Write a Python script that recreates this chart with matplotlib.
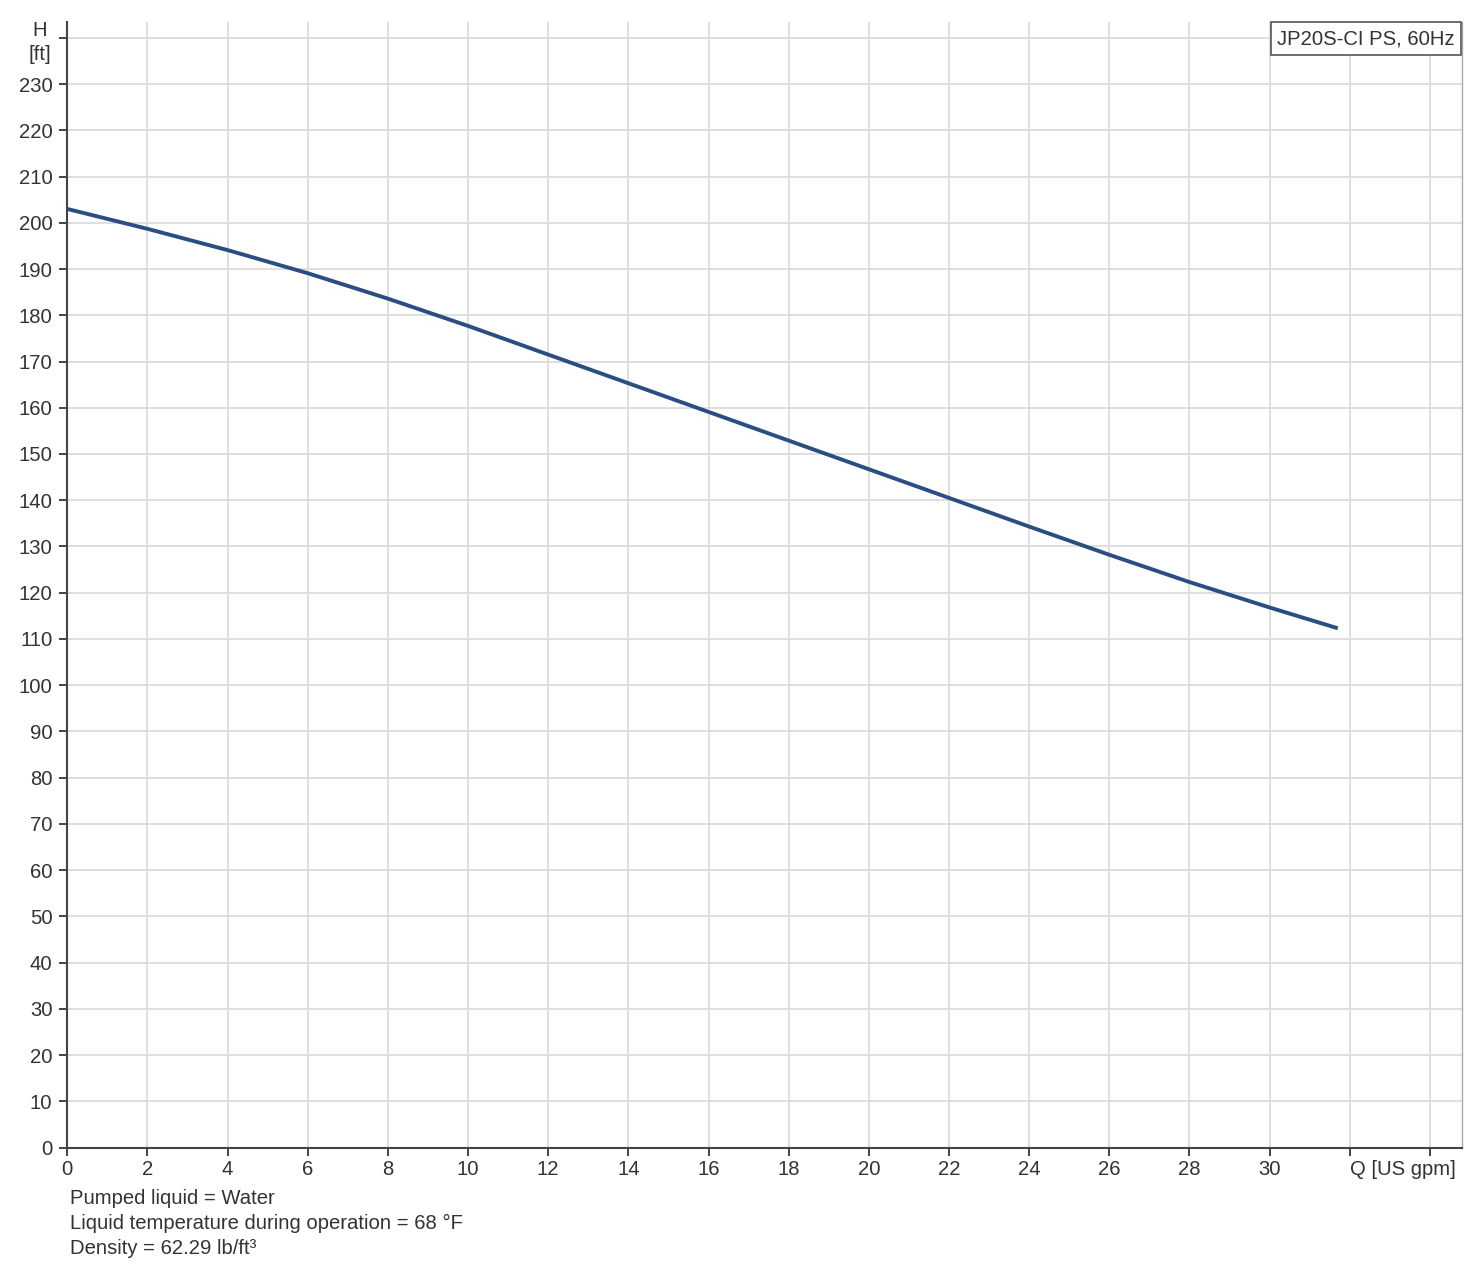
import numpy as np
import matplotlib.pyplot as plt

# pump curve
flow_gpm = [0, 2, 4, 6, 8, 10, 12, 14, 16, 18, 20, 22, 24, 26, 28, 30, 31.7]
head_ft = [203.0, 198.7, 194.1, 189.1, 183.6, 177.7, 171.5, 165.3, 159.1,
           152.9, 146.7, 140.5, 134.3, 128.2, 122.3, 116.8, 112.3]

x_ticks = list(range(0, 35, 2))
y_ticks = list(range(0, 241, 10))
curve_name = "JP20S-CI PS, 60Hz"
notes = ["Pumped liquid = Water",
         "Liquid temperature during operation = 68 \u00b0F",
         "Density = 62.29 lb/ft\u00b3"]

LINE_COLOR = "#2a4d82"
TEXT_COLOR = "#333333"
GRID_COLOR = "#dcdcdc"
AXIS_COLOR = "#444444"
FS = 14.6

plt.rcParams['font.family'] = ['Liberation Sans', 'DejaVu Sans']

W, H = 1482, 1266
fig = plt.figure(figsize=(W / 100, H / 100), dpi=100)
left, right, top, bottom = 67.3, 1462, 21.7, 1147.5
ax = fig.add_axes([left / W, 1 - bottom / H, (right - left) / W, (bottom - top) / H])

ax.plot(flow_gpm, head_ft, color=LINE_COLOR, lw=2.8, solid_capstyle='butt',
        solid_joinstyle='round', zorder=3)

ax.set_xlim(0, 34.8)
ax.set_ylim(0, 243.5)
ax.set_xticks(x_ticks)
ax.set_yticks(y_ticks)

# last x tick labels are replaced by the axis name, top y tick by the unit
xlabels = [str(v) for v in x_ticks]
xlabels[-2] = ""
xlabels[-1] = ""
ylabels = [str(v) for v in y_ticks]
ylabels[-1] = ""
ax.set_xticklabels(xlabels)
ax.set_yticklabels(ylabels)

ax.grid(True, color=GRID_COLOR, lw=1.3, zorder=0)
ax.set_axisbelow(True)

ax.spines['top'].set_visible(False)
ax.spines['right'].set_color('#aaaaaa')
ax.spines['right'].set_linewidth(1.0)
for s in ['left', 'bottom']:
    ax.spines[s].set_color(AXIS_COLOR)
    ax.spines[s].set_linewidth(1.5)

ax.tick_params(axis='both', direction='out', length=5.8, width=1.4,
               color=AXIS_COLOR, labelcolor=TEXT_COLOR, labelsize=FS)
ax.tick_params(axis='y', pad=5.0)
ax.tick_params(axis='x', pad=3.5)

# axis names
ax.text(32, -2.6, "Q [US gpm]", ha='left', va='top', fontsize=FS,
        color=TEXT_COLOR, clip_on=False)
ax.text(-0.68, 239.0, "H\n[ft]", ha='center', va='center', fontsize=FS,
        color=TEXT_COLOR, linespacing=1.32, clip_on=False)

# curve name box
ax.text(0.9948, 0.9935, curve_name, transform=ax.transAxes, ha='right', va='top',
        fontsize=FS, color=TEXT_COLOR, zorder=5,
        bbox=dict(boxstyle='square,pad=0.33', fc='white', ec='#555555', lw=1.2))

# notes under the chart
for i, line in enumerate(notes):
    fig.text(70 / W, 1 - (1198 + 25 * i) / H, line, ha='left', va='center',
             fontsize=FS, color=TEXT_COLOR)

fig.savefig("out.png", dpi=100, facecolor='white')
